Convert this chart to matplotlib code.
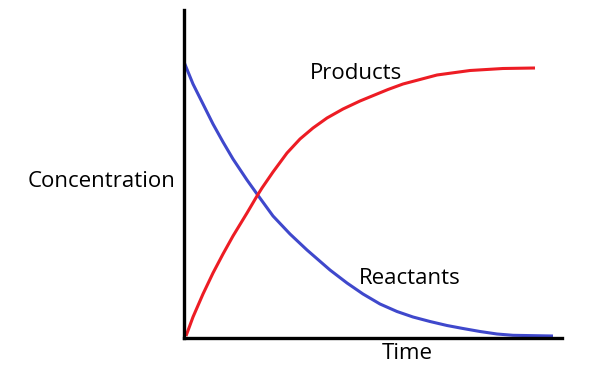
import matplotlib.pyplot as plt

# Readings (arbitrary units)
time_reactants = [0, 9, 19, 29, 39, 49, 63, 73, 89, 106, 123, 146, 163, 179, 196,
                  213, 229, 246, 263, 279, 296, 313, 329, 369]
conc_reactants = [276, 254, 234, 214, 196, 179, 158, 144, 122, 104, 88, 68, 55, 44, 34,
                  26.5, 21, 16.5, 12.5, 9.5, 6.5, 4, 2.7, 2]
time_products = [2, 9, 19, 29, 39, 49, 63, 73, 78, 89, 103, 116, 129, 143, 159,
                 176, 193, 204, 219, 253, 286, 319, 351]
conc_products = [2, 21, 44, 65, 84, 102, 125, 142, 150, 166, 185, 199, 210, 220, 229,
                 237, 244, 248.5, 254, 263, 267.5, 269.5, 270]

W, H = 609, 373
fig = plt.figure(figsize=(W / 100, H / 100), dpi=100)
ax = fig.add_axes([184 / W, 35 / H, 378 / W, 328 / H])

ax.plot(time_reactants, conc_reactants, color='#3f48cc', lw=2.2,
        solid_capstyle='butt', solid_joinstyle='round')
ax.plot(time_products, conc_products, color='#ed1c24', lw=2.2,
        solid_capstyle='butt', solid_joinstyle='round')

ax.set_xlim(0, 378)
ax.set_ylim(0, 328)
ax.set_xticks([])
ax.set_yticks([])
for side in ['top', 'right']:
    ax.spines[side].set_visible(False)
for side in ['left', 'bottom']:
    ax.spines[side].set_linewidth(2.4)
    ax.spines[side].set_color('black')

font = dict(family='Open Sans', fontsize=16, color='black')

def label(x, y, s):
    fig.text(x / W, 1 - y / H, s, ha='left', va='baseline', **font)

label(28, 187, "Concentration")
label(382, 359, "Time")
label(310, 79, "Products")
label(359, 284, "Reactants")

fig.savefig("out.png", dpi=100)
